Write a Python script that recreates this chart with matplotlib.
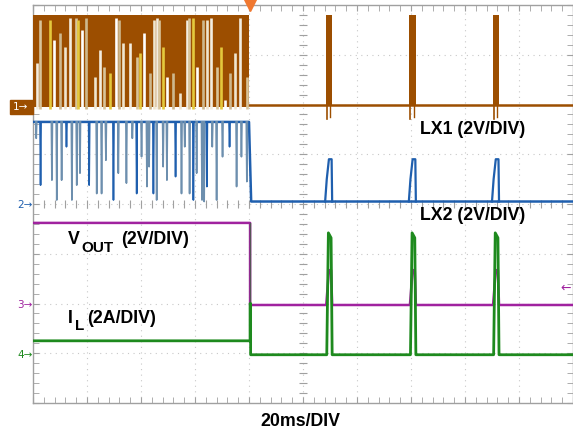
import numpy as np
import matplotlib.pyplot as plt

# scope screen: 10 x 8 divisions, 20 ms/div, y measured in divisions from the bottom
switch_t = 4.02                    # load step / end of the dense switching
pulse_t = [5.41, 6.96, 8.50]       # burst starts after the step
pulse_w = 0.13

# LX1 (ch1)
lx1_low, lx1_high, lx1_under = 6.0, 7.8, 5.7
lx1_gap_t = [0.08, 0.13, 0.31, 0.38, 0.50, 0.59, 0.69, 0.80, 0.84, 0.90, 0.99,
             1.15, 1.24, 1.31, 1.43, 1.54, 1.60, 1.66, 1.80, 1.92, 1.98, 2.06,
             2.17, 2.24, 2.29, 2.34, 2.41, 2.48, 2.60, 2.72, 2.85, 2.89, 2.97,
             3.03, 3.15, 3.23, 3.29, 3.40, 3.48, 3.56, 3.65, 3.74, 3.83, 3.96]
lx1_gap_top = [6.83, 7.70, 7.70, 7.30, 7.43, 7.16, 7.73, 7.73, 7.70, 7.50, 7.73,
               6.56, 7.10, 6.76, 6.63, 7.73, 7.70, 7.23, 7.23, 6.96, 7.03, 7.43,
               6.63, 7.70, 7.73, 7.70, 7.16, 6.56, 6.63, 6.23, 7.70, 7.73, 7.73,
               6.76, 7.70, 7.70, 7.73, 6.76, 7.16, 6.09, 6.63, 7.03, 7.73, 6.56]

# LX2 (ch2)
lx2_low, lx2_high, lx2_pulse = 4.05, 5.65, 4.9
lx2_dip_t = [0.06, 0.14, 0.35, 0.44, 0.53, 0.62, 0.72, 0.81, 0.87, 1.04, 1.18,
             1.27, 1.35, 1.49, 1.58, 1.73, 1.84, 1.92, 2.01, 2.11, 2.15, 2.23,
             2.29, 2.41, 2.48, 2.64, 2.75, 2.81, 2.90, 2.97, 3.03, 3.13, 3.17,
             3.22, 3.32, 3.40, 3.51, 3.64, 3.77, 3.86, 3.96]
lx2_dip_bot = [5.32, 4.38, 4.48, 4.08, 4.48, 5.15, 4.08, 4.38, 4.62, 4.38, 4.21,
               4.21, 4.88, 4.08, 4.62, 4.42, 5.32, 4.21, 4.95, 4.35, 4.75, 4.21,
               4.08, 4.75, 4.48, 4.55, 4.21, 5.15, 4.21, 4.08, 4.62, 4.08, 4.05,
               4.35, 5.15, 4.08, 4.95, 5.15, 4.35, 4.95, 4.45]

# VOUT (ch3) and IL (ch4)
vout_before, vout_after, vout_peak = 3.62, 1.97, 2.67
il_before, il_after, il_peak, il_step = 1.25, 0.97, 3.42, 2.0

brown = '#9c4e00'
blue = '#1f5fae'
steel = '#6d8fae'
purple = '#a0229f'
green = '#1e8a1e'

fig = plt.figure(figsize=(5.73, 4.32), dpi=100)
ax = fig.add_axes([33/573, 29/432, 540/573, 398/432])
ax.set_xlim(0, 10)
ax.set_ylim(0, 8)

# graticule
for i in range(1, 10):
    ax.axvline(i, color='#c8c8c8', lw=0.8, ls=(0, (1, 4)), zorder=0)
for j in range(1, 8):
    ax.axhline(j, color='#c8c8c8', lw=0.8, ls=(0, (1, 4)), zorder=0)
ax.set_xticks(np.arange(0, 11, 1))
ax.set_yticks(np.arange(0, 9, 1))
ax.set_xticks(np.arange(0, 10.01, 0.2), minor=True)
ax.set_yticks(np.arange(0, 8.01, 0.2), minor=True)
ax.tick_params(which='both', direction='in', length=4, color='#a0a0a0',
               labelbottom=False, labelleft=False, top=True, right=True)
for s in ax.spines.values():
    s.set_color('#a0a0a0')
    s.set_linewidth(1.0)
mt = np.arange(0, 10.01, 0.2)
ax.plot(mt, np.full(len(mt), 4.0), ls='none', marker='|', ms=6, color='#a0a0a0', mew=0.8, zorder=1)
mv = np.arange(0, 8.01, 0.2)
ax.plot(np.full(len(mv), 5.0), mv, ls='none', marker='_', ms=6, color='#a0a0a0', mew=0.8, zorder=1)

# ---- LX1 ----
ax.fill_between([0, switch_t - 0.02], lx1_low - 0.05, lx1_high, color=brown, lw=0, zorder=3)
gap_cols = ['#f3ede0', '#d8c49a', '#e4c93c', '#ffffff', '#cdb88e', '#efe6cf']
for k, (t, top) in enumerate(zip(lx1_gap_t, lx1_gap_top)):
    ax.plot([t, t], [lx1_low - 0.1, top], color=gap_cols[k % 6], lw=1.9,
            solid_capstyle='butt', zorder=4)
ax.plot([switch_t - 0.02, 10], [lx1_low, lx1_low], color=brown, lw=1.8, zorder=3)
for s in pulse_t:
    ax.fill_between([s + 0.01, s + pulse_w], lx1_low, lx1_high, color=brown, lw=0, zorder=3)
    ax.plot([s + 0.03, s + 0.03], [lx1_under, lx1_low], color=brown, lw=1.2, zorder=3)
    ax.plot([s + 0.09, s + 0.09], [lx1_under + 0.05, lx1_low], color=brown, lw=1.0, zorder=3)

# ---- LX2 ----
ax.plot([0, switch_t - 0.02, switch_t + 0.02, 10],
        [lx2_high, lx2_high, lx2_low, lx2_low], color=blue, lw=1.8, zorder=5)
for k, (t, bot) in enumerate(zip(lx2_dip_t, lx2_dip_bot)):
    c = blue if k % 4 == 1 else steel
    ax.plot([t - 0.01, t, t + 0.01], [lx2_high, bot, lx2_high], color=c, lw=1.2, zorder=5)
for s in pulse_t:
    ax.plot([s, s + 0.03, s + 0.07, s + 0.12, s + 0.13],
            [lx2_low, lx2_low + 0.45, lx2_pulse, lx2_pulse, lx2_low],
            color=blue, lw=1.6, zorder=5)

# ---- VOUT ----
xv = [0, switch_t, switch_t, switch_t + 0.02]
yv = [vout_before, vout_before, vout_after, vout_after]
for s in pulse_t:
    xv += [s + 0.02, s + 0.07, s + 0.11, s + 0.13]
    yv += [vout_after, vout_peak, vout_peak, vout_after]
xv.append(10)
yv.append(vout_after)
ax.plot(xv, yv, color=purple, lw=1.8, zorder=6)
ax.plot([switch_t - 0.005, switch_t - 0.005], [vout_before, vout_after], color='#555555', lw=1.0, zorder=6)

# ---- IL ----
xi = [0, switch_t, switch_t, switch_t + 0.01, switch_t + 0.01]
yi = [il_before, il_before, il_step, il_step, il_after]
for s in pulse_t:
    xi += [s + 0.03, s + 0.06, s + 0.11, s + 0.13]
    yi += [il_after, il_peak, il_peak - 0.1, il_after]
xi.append(10)
yi.append(il_after)
ax.plot(xi, yi, color=green, lw=2.0, zorder=7)

# ---- labels ----
lab = dict(fontsize=12.8, fontweight='bold', family='Liberation Sans', color='black', zorder=10)
sub = dict(fontsize=11, fontweight='bold', family='Liberation Sans', color='black', zorder=10)
ax.text(7.17, 5.49, 'LX1 (2V/DIV)', va='center', ha='left', **lab)
ax.text(7.17, 3.76, 'LX2 (2V/DIV)', va='center', ha='left', **lab)
ax.text(0.65, 3.28, 'V', va='center', ha='left', **lab)
ax.text(0.89, 3.12, 'OUT', va='center', ha='left', **sub)
ax.text(1.63, 3.28, '(2V/DIV)', va='center', ha='left', **lab)
ax.text(0.65, 1.70, 'I', va='center', ha='left', **lab)
ax.text(0.77, 1.54, 'L', va='center', ha='left', **sub)
ax.text(1.00, 1.70, '(2A/DIV)', va='center', ha='left', **lab)
fig.text(300/573, (432-421)/432, '20ms/DIV', ha='center', va='center',
         fontsize=12.8, fontweight='bold', family='Liberation Sans')

# channel markers
ax.plot([switch_t], [8.0], marker='v', ms=8, color='#f07830', clip_on=False, zorder=12)
fig.patches.append(plt.Rectangle((10/573, (432-114)/432), 23/573, 14/432,
                                 transform=fig.transFigure, color=brown))
fig.text(21/573, (432-107)/432, '1\u2192', color='white', fontsize=7.5, ha='center', va='center')
fig.text(25/573, (432-205)/432, '2\u2192', color=blue, fontsize=7.5, ha='center', va='center')
fig.text(25/573, (432-305)/432, '3\u2192', color=purple, fontsize=7.5, ha='center', va='center')
fig.text(25/573, (432-355)/432, '4\u2192', color=green, fontsize=7.5, ha='center', va='center')
fig.text(566/573, (432-288)/432, '\u2190', color=purple, fontsize=9, ha='center', va='center')

fig.savefig('out.png', dpi=100)
